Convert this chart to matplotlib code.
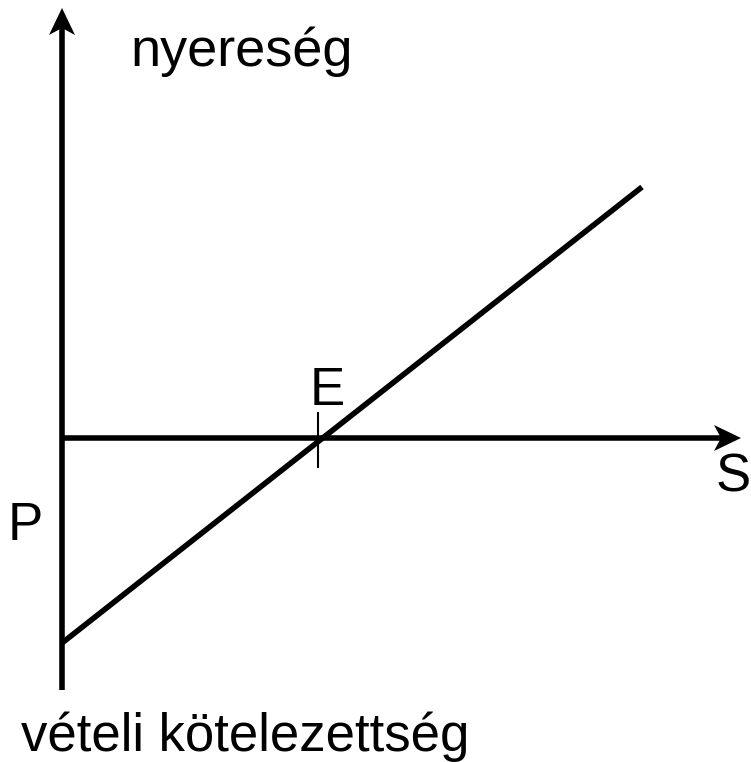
import numpy as np
import matplotlib.pyplot as plt
from matplotlib.patches import Polygon

plt.rcParams['font.family'] = ['Liberation Sans', 'DejaVu Sans']

# diagram data (S on x, profit on y, origin where the axes meet)
S_line = [0, 580]
profit_line = [-205, 251]
E = 256
y_axis_top, y_axis_bottom = 430, -252
x_axis_end = 679

fig = plt.figure(figsize=(7.51, 7.62), dpi=100)
ax = fig.add_axes([0, 0, 1, 1])
ax.set_xlim(-62, 689)
ax.set_ylim(-324, 438)
ax.axis('off')

lw = 4.0

# axes
ax.plot([0, 0], [y_axis_bottom, y_axis_top - 15], color='black', lw=lw, solid_capstyle='butt')
ax.plot([0, x_axis_end - 15], [0, 0], color='black', lw=lw, solid_capstyle='butt')

# notched arrow heads
ax.add_patch(Polygon([[0, y_axis_top], [-13, y_axis_top - 27], [0, y_axis_top - 20],
                      [13, y_axis_top - 27]], closed=True, color='black', lw=0))
ax.add_patch(Polygon([[x_axis_end, 0], [x_axis_end - 27, 13], [x_axis_end - 20, 0],
                      [x_axis_end - 27, -13]], closed=True, color='black', lw=0))

# profit line of the long position
ax.plot(S_line, profit_line, color='black', lw=lw, solid_capstyle='butt')

# break-even tick
ax.plot([E, E], [-29, 25], color='black', lw=1.5)

fs = 38
ax.text(130 - 62, 438 - 66, 'nyereség', fontsize=fs + 1, ha='left', va='baseline')
ax.text(E + 9, 438 - 405, 'E', fontsize=fs, ha='center', va='baseline')
ax.text(733 - 62, 438 - 491, 'S', fontsize=fs, ha='center', va='baseline')
ax.text(25 - 62, 438 - 540, 'P', fontsize=fs, ha='center', va='baseline')
ax.text(21 - 62, 438 - 751, 'vételi kötelezettség', fontsize=fs, ha='left', va='baseline')

plt.savefig('out.png', dpi=100)
